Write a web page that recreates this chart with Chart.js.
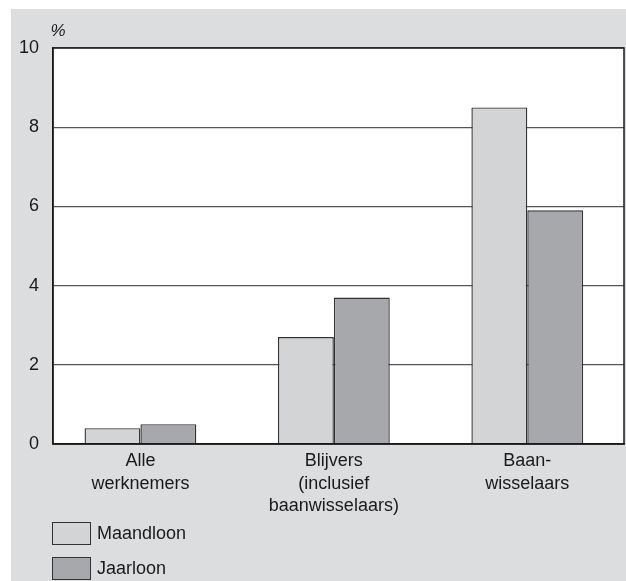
<!DOCTYPE html>
<html>
<head>
<meta charset="utf-8">
<script src="https://cdn.jsdelivr.net/npm/chart.js@4"></script>
<style>
    body { margin: 0; background: #fff; width: 626px; height: 581px; overflow: hidden; font-family: "Liberation Sans", Arial, sans-serif; }
    #panel { position: absolute; left: 11px; top: 9px; width: 615px; height: 572px; background: #dcdddf; }
    #chartBox { position: absolute; left: 0; top: 0; width: 615px; height: 515px; }
    #legend { position: absolute; left: 41px; top: 507px; }
    .item { display: flex; align-items: center; height: 35px; font-size: 18px; color: #1a1a1a; }
    .swatch { width: 37px; height: 21px; border: 1.4px solid #333; margin-right: 6px; }
</style>
</head>
<body>
<div id="panel">
    <div id="chartBox"><canvas id="chart"></canvas></div>
    <div id="legend"></div>
</div>
<script>
// loongroei per groep werknemers
const categories = [['Alle', 'werknemers'], ['Blijvers', '(inclusief', 'baanwisselaars)'], ['Baan-', 'wisselaars']];
const maandloon = [0.4, 2.7, 8.5];
const jaarloon = [0.5, 3.7, 5.9];
const yTicks = [0, 2, 4, 6, 8, 10];
const unitLabel = '%';

const seriesNames = ['Maandloon', 'Jaarloon'];
const seriesColors = ['#d3d4d6', '#a7a8ab'];
const fontFamily = '"Liberation Sans", Arial, sans-serif';

// witte achtergrond, kader rond het plotgebied en het procentteken
const frame = {
    id: 'frame',
    beforeDraw: function(chart) {
        const a = chart.chartArea;
        chart.ctx.save();
        chart.ctx.fillStyle = '#ffffff';
        chart.ctx.fillRect(a.left, a.top, a.right - a.left, a.bottom - a.top);
        chart.ctx.restore();
    },
    afterDraw: function(chart) {
        const a = chart.chartArea;
        const ctx = chart.ctx;
        ctx.save();
        ctx.strokeStyle = '#1a1a1a';
        ctx.lineWidth = 1.5;
        ctx.strokeRect(a.left, a.top, a.right - a.left, a.bottom - a.top);
        ctx.fillStyle = '#1a1a1a';
        ctx.font = 'italic 17px ' + fontFamily;
        ctx.textBaseline = 'middle';
        ctx.textAlign = 'center';
        ctx.fillText(unitLabel, a.left + 5, a.top - 17);
        ctx.restore();
    }
};

const chart = new Chart(document.getElementById('chart'), {
    type: 'bar',
    data: {
        datasets: [
            { label: seriesNames[0], data: maandloon.map((v, i) => ({ x: i, y: v })), backgroundColor: seriesColors[0] },
            { label: seriesNames[1], data: jaarloon.map((v, i) => ({ x: i, y: v })), backgroundColor: seriesColors[1] }
        ]
    },
    options: {
        responsive: true,
        maintainAspectRatio: false,
        animation: false,
        layout: { padding: { top: 39, right: 2, bottom: 0, left: 0 } },
        datasets: {
            bar: {
                categoryPercentage: 0.578,
                barPercentage: 1,
                borderColor: '#333',
                borderWidth: 1.4
            }
        },
        scales: {
            x: {
                type: 'linear',
                offset: false,
                min: -0.452,
                max: 2.5,
                afterBuildTicks: function(axis) { axis.ticks = categories.map((c, i) => ({ value: i })); },
                grid: { display: false, drawTicks: false, offset: false },
                border: { color: '#1a1a1a', width: 1.5 },
                ticks: {
                    color: '#1a1a1a',
                    padding: 6,
                    maxRotation: 0,
                    autoSkip: false,
                    callback: function(value) { return categories[value]; },
                    font: { family: fontFamily, size: 18, lineHeight: 1.25 }
                },
                afterFit: function(axis) { axis.height = 80; }
            },
            y: {
                min: 0,
                max: 10,
                afterBuildTicks: function(axis) { axis.ticks = yTicks.map(v => ({ value: v })); },
                grid: { color: '#555', lineWidth: 1.3, drawTicks: false },
                border: { color: '#1a1a1a', width: 1.5 },
                ticks: {
                    color: '#1a1a1a',
                    padding: 14,
                    font: { family: fontFamily, size: 18 }
                },
                afterFit: function(axis) { axis.width = 42; }
            }
        },
        plugins: {
            legend: { display: false },
            tooltip: { enabled: false }
        }
    },
    plugins: [frame]
});

document.getElementById('legend').innerHTML = chart.data.datasets.map(ds => `
    <div class="item"><div class="swatch" style="background:${ds.backgroundColor}"></div>${ds.label}</div>
`).join('');
</script>
</body>
</html>
